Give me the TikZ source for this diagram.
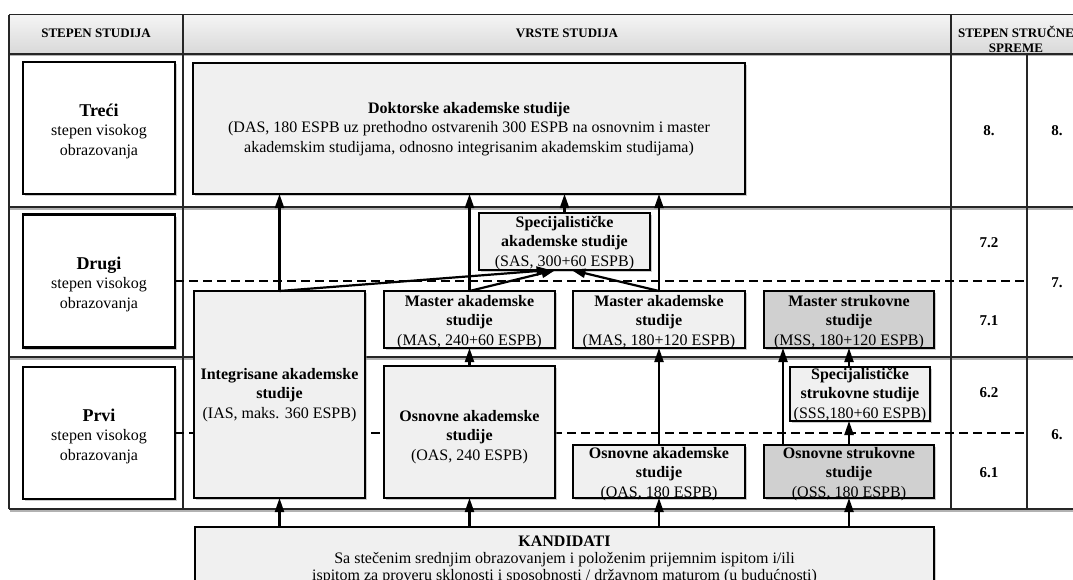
\documentclass[tikz,border=0pt]{standalone}
\usepackage{fontspec}
\setmainfont{Liberation Serif}
\usetikzlibrary{arrows.meta,shadows}
\definecolor{boxfill}{HTML}{F0F0F0}
\definecolor{darkfill}{HTML}{D0D0D0}
\begin{document}
\begin{tikzpicture}[x=1pt,y=-1pt,
  tbl/.style={line width=1.3pt, draw=black!85},
  tsh/.style={line width=1.2pt, draw=black!30},
  bx/.style={draw, line width=2.5pt, fill=boxfill, inner sep=0pt, outer sep=0pt,
    drop shadow={shadow xshift=2.4pt, shadow yshift=-2.4pt, fill=black!40}},
  wbx/.style={bx, fill=white},
  dbx/.style={bx, fill=darkfill},
  tx/.style={align=center, inner sep=0pt, font=\fontsize{16}{19.5}\selectfont},
  hd/.style={align=center, inner sep=0pt, font=\fontsize{13}{15}\selectfont\bfseries},
  num/.style={inner sep=0pt, font=\fontsize{15}{18}\selectfont\bfseries},
  dsh/.style={line width=1.8pt, dash pattern=on 9pt off 5pt},
  arr/.style={line width=2.2pt, -{Triangle[length=14pt,width=9pt]}}
]
\useasboundingbox (0,0) rectangle (1073,579);
\clip (0,0) rectangle (1073,579);

% ---------- table ----------
\path[top color=gray!8, bottom color=gray!30] (9,14.5) rectangle (1095,53.5);
\draw[tsh] (10,55.5) -- (1095,55.5);
\draw[tsh] (10,209) -- (1095,209);
\draw[tsh] (10,359) -- (1095,359);
\draw[tsh] (10,511) -- (1095,511);
\draw[tbl] (9,14.5) -- (1095,14.5);
\draw[tbl, line width=2pt] (9,53.5) -- (1095,53.5);
\draw[tbl, line width=1.6pt] (9,207) -- (1095,207);
\draw[tbl, line width=1.6pt] (9,357) -- (1095,357);
\draw[tbl, line width=1.6pt] (9,509) -- (1095,509);
\draw[tbl] (9,14.5) -- (9,509);
\draw[tbl] (183,14.5) -- (183,509);
\draw[tbl] (951,14.5) -- (951,509);
\draw[tbl] (1027,53.5) -- (1027,509);
\coordinate (xr) at (1027,0);

\node[hd] (h1) at (96,33.5) {STEPEN STUDIJA};
\node[hd] (h2) at (567,33.5) {VRSTE STUDIJA};
\node[hd] (h3) at (1016,39.5) {STEPEN STRUČNE\\SPREME};

% ---------- right column numbers ----------
\node[num] (n8a) at (989,131) {8.};
\node[num] (n8b) at (1057,131) {8.};
\node[num] (n72) at (989,243) {7.2};
\node[num] (n71) at (989,321) {7.1};
\node[num] (n7) at (1057,283) {7.};
\node[num] (n62) at (989,393) {6.2};
\node[num] (n61) at (989,473) {6.1};
\node[num] (n6) at (1057,435) {6.};

% ---------- left boxes ----------
\node[wbx, minimum width=152pt, minimum height=132pt] (treci) at (99,128) {};
\node[wbx, minimum width=152pt, minimum height=133pt] (drugi) at (99,281) {};
\node[wbx, minimum width=152pt, minimum height=132pt] (prvi) at (99,433) {};
\node[tx] (trecit) at ([yshift=-3pt]treci.center) {{\fontsize{18}{21}\selectfont\bfseries Treći}\\stepen visokog\\obrazovanja};
\node[tx] (drugit) at ([yshift=-3pt]drugi.center) {{\fontsize{18}{21}\selectfont\bfseries Drugi}\\stepen visokog\\obrazovanja};
\node[tx] (prvit) at ([yshift=-3pt]prvi.center) {{\fontsize{18}{21}\selectfont\bfseries Prvi}\\stepen visokog\\obrazovanja};

% ---------- dashed level lines ----------
\draw[dsh] (drugi.east) -- (drugi.east -| xr);
\draw[dsh] (prvi.east) -- (prvi.east -| xr);

% ---------- study boxes ----------
\node[bx, minimum width=552pt, minimum height=131pt] (dok) at (469,128.5) {};
\node[bx, minimum width=171pt, minimum height=57pt] (sas) at (564.5,241.5) {};
\node[bx, minimum width=171pt, minimum height=207pt] (ias) at (279.5,394.5) {};
\node[bx, minimum width=171pt, minimum height=57pt] (mas1) at (469.5,319.5) {};
\node[bx, minimum width=172pt, minimum height=57pt] (mas2) at (659,319.5) {};
\node[dbx, minimum width=170pt, minimum height=57pt] (mss) at (849,319.5) {};
\node[bx, minimum width=171pt, minimum height=132pt] (oas4) at (469.5,432) {};
\node[bx, minimum width=140pt, minimum height=54pt] (sss) at (860,394) {};
\node[bx, minimum width=172pt, minimum height=53pt] (oas3) at (659,471.5) {};
\node[dbx, minimum width=170pt, minimum height=53pt] (oss) at (849,471.5) {};
\node[bx, minimum width=739pt, minimum height=80pt, anchor=north] (kand) at (564.5,527) {};

% ---------- texts ----------
\node[tx] (dokt) at (469,129) {{\bfseries Doktorske akademske studije}\\(DAS, 180 ESPB uz prethodno ostvarenih 300 ESPB na osnovnim i master\\akademskim studijama, odnosno integrisanim akademskim studijama)};
\node[tx] (sast) at (564.5,243) {{\bfseries Specijalističke}\\{\bfseries akademske studije}\\(SAS, 300+60 ESPB)};
\node[tx] (iast) at (279.5,395) {{\bfseries Integrisane akademske}\\{\bfseries studije}\\(IAS, maks. 360 ESPB)};
\node[tx] (mas1t) at (469.5,322) {{\bfseries Master akademske}\\{\bfseries studije}\\(MAS, 240+60 ESPB)};
\node[tx] (mas2t) at (659,322) {{\bfseries Master akademske}\\{\bfseries studije}\\(MAS, 180+120 ESPB)};
\node[tx] (msst) at (849,322) {{\bfseries Master strukovne}\\{\bfseries studije}\\(MSS, 180+120 ESPB)};
\node[tx] (oas4t) at (469.5,437) {{\bfseries Osnovne akademske}\\{\bfseries studije}\\(OAS, 240 ESPB)};
\node[tx] (ssst) at (860,395) {{\bfseries Specijalističke}\\{\bfseries strukovne studije}\\(SSS,180+60 ESPB)};
\node[tx] (oas3t) at (659,474) {{\bfseries Osnovne akademske}\\{\bfseries studije}\\(OAS, 180 ESPB)};
\node[tx] (osst) at (849,474) {{\bfseries Osnovne strukovne}\\{\bfseries studije}\\(OSS, 180 ESPB)};
\node[tx, anchor=north, font=\fontsize{16}{17}\selectfont] (kandt) at ([yshift=-9pt]kand.north) {{\bfseries KANDIDATI}\\Sa stečenim srednjim obrazovanjem i položenim prijemnim ispitom i/ili\\ispitom za proveru sklonosti i sposobnosti / državnom maturom (u budućnosti)};

% ---------- arrows ----------
\draw[arr] (ias.north) -- (ias.north |- dok.south);
\draw[arr] (mas1.north) -- (mas1.north |- dok.south);
\draw[arr] (sas.north) -- (sas.north |- dok.south);
\draw[arr] (mas2.north) -- (mas2.north |- dok.south);
\draw[arr] (ias.north) -- ([xshift=-14pt]sas.south);
\draw[arr] (mas1.north) -- ([xshift=-9pt]sas.south);
\draw[arr] (mas2.north) -- ([xshift=7pt]sas.south);
\draw[arr] (oas4.north) -- (oas4.north |- mas1.south);
\draw[arr] (oas3.north) -- (oas3.north |- mas2.south);
\draw[arr] ([xshift=-66pt]oss.north) -- ([xshift=-66pt]mss.south);
\draw[arr] (sss.north -| oss.north) -- (mss.south);
\draw[arr] (oss.north) -- (oss.north |- sss.south);
\draw[arr] (kand.north -| ias.south) -- (ias.south);
\draw[arr] (kand.north -| oas4.south) -- (oas4.south);
\draw[arr] (kand.north -| oas3.south) -- (oas3.south);
\draw[arr] (kand.north -| oss.south) -- (oss.south);
\end{tikzpicture}
\end{document}
